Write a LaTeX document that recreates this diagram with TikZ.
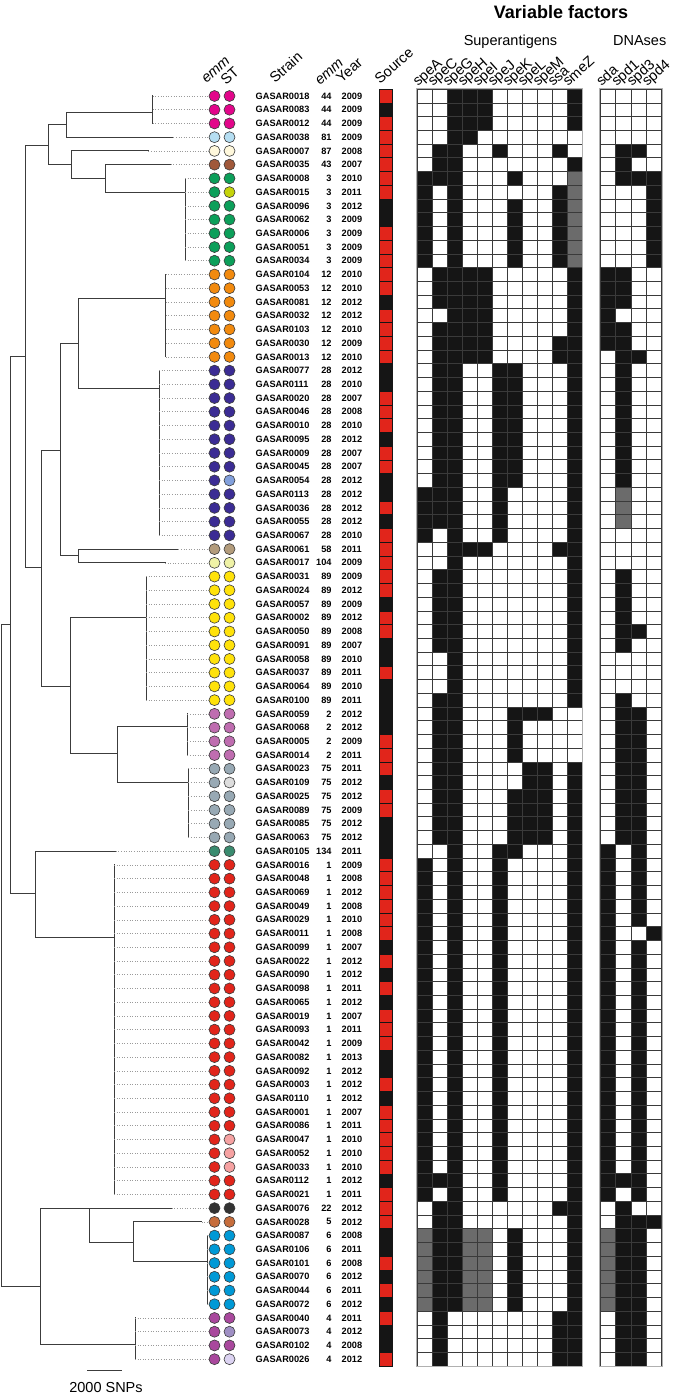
\documentclass[tikz,border=0pt]{standalone}
\usepackage{fontspec}
\setmainfont{Liberation Sans}
\definecolor{gasmagenta}{HTML}{E2068A}
\definecolor{gassky}{HTML}{B5DEF2}
\definecolor{gascream}{HTML}{FFF8DC}
\definecolor{gasbrown}{HTML}{A0583A}
\definecolor{gasgreen}{HTML}{0C9F5A}
\definecolor{gaslime}{HTML}{C5D30A}
\definecolor{gasorange}{HTML}{F28A0E}
\definecolor{gasindigo}{HTML}{3B2C94}
\definecolor{gasperiwinkle}{HTML}{82A0DC}
\definecolor{gastan}{HTML}{B39C7C}
\definecolor{gaspale}{HTML}{EFF2A6}
\definecolor{gasyellow}{HTML}{FFE20A}
\definecolor{gasmauve}{HTML}{BF6DB0}
\definecolor{gasslate}{HTML}{98A9B4}
\definecolor{gassilver}{HTML}{DDDDDD}
\definecolor{gasteal}{HTML}{3A8B6F}
\definecolor{gasred}{HTML}{E1251B}
\definecolor{gasrose}{HTML}{F6A2A2}
\definecolor{gascharcoal}{HTML}{333333}
\definecolor{gascopper}{HTML}{C66D3C}
\definecolor{gasblue}{HTML}{0099D6}
\definecolor{gasplum}{HTML}{A9489D}
\definecolor{gaslilac}{HTML}{9F8FC4}
\definecolor{gaslavender}{HTML}{DCD3F2}
\definecolor{gasbranch}{HTML}{3C3C3C}
\definecolor{gasleader}{HTML}{9A9A9A}
\definecolor{gasring}{HTML}{3A3A3A}
\definecolor{gasgrid}{HTML}{3A3A3A}
\definecolor{gasframe}{HTML}{B0B0B0}
\definecolor{gascell0}{HTML}{FFFFFF}
\definecolor{gascell1}{HTML}{151515}
\definecolor{gascell2}{HTML}{6B6B6B}
\definecolor{gassrcr}{HTML}{E1251B}
\definecolor{gassrck}{HTML}{151515}

\begin{document}
\begin{tikzpicture}[
  x=1pt, y=-1pt,
  font=\rmfamily,
  tree/.style={draw=gasbranch, line width=1pt, line cap=rect},
  leader/.style={draw=gasleader, line width=0.6pt, dotted},
  dot/.style={circle, draw=gasring, line width=0.6pt, minimum size=11pt, inner sep=0pt},
  lbl/.style={font=\fontsize{9.2}{11}\selectfont\bfseries, inner sep=0pt},
  head/.style={font=\fontsize{14.5}{17}\selectfont, inner sep=0pt, rotate=42, anchor=base west},
  title/.style={font=\fontsize{14.5}{17}\selectfont, inner sep=0pt, anchor=base},
  cell/.style={draw=gasgrid, line width=0.7pt},
  srccell/.style={draw=gassrck, line width=0.6pt},
]
\useasboundingbox (0,0) rectangle (675,1394);

% ---- row geometry ----
\def\ry#1{96+(#1-1)*13.73}
\def\clade#1#2#3#4#5{\draw[tree] (#1,{\ry{#3}}) -- (#2,{\ry{#3}}) (#2,{\ry{#4}}) -- (#2,{\ry{#5}});}
\def\tipline#1#2#3{\draw[tree] (#1,{\ry{#3}}) -- (#2,{\ry{#3}});}

% ---- headers ----
\node[font=\fontsize{18}{21}\selectfont\bfseries, inner sep=0pt, anchor=base] (vf) at (561,18.5) {Variable factors};
\node[title] (hsag) at (510.5,46) {Superantigens};
\node[title] (hdna) at (639.7,46) {DNAses};

\node[head] (hemm)  at (206.5,84) {\itshape emm};
\node[head] (hst)   at (226,86)   {ST};
\node[head] (hstr)  at (275,84)   {Strain};
\node[head] (hemmb) at (320,86)   {\itshape emm};
\node[head] (hyear) at (341.5,84) {Year};
\node[head] (hsrc)  at (380,85)   {Source};
\foreach \g [count=\c] in {speA,speC,speG,speH,speI,speJ,speK,speL,speM,ssa,smeZ}{
  \node[head] (g\c) at ({418+(\c-1)*15},87) {\g};
}
\foreach \g [count=\c] in {sda,spd1,spd3,spd4}{
  \node[head] (d\c) at ({601.4+(\c-1)*15.3},87) {\g};
}

% ---- tree ----
\draw[tree] (1.7,{\ry{39.5}}) -- (1.7,{\ry{87.7}});
\clade{1.7}{10.7}{39.5}{20}{59.07}
\clade{10.7}{25}{20}{4.6}{35.35}
\clade{25}{48.3}{4.6}{3.1}{6}
\clade{48.3}{66}{3.1}{2.2}{4}
\clade{66}{152.7}{2.2}{1}{3}
\tipline{66}{173.3}{4}
\clade{48.3}{71.7}{6}{5}{7}
\tipline{71.7}{148.3}{5}
\clade{71.7}{105.7}{7}{6}{8}
\tipline{105.7}{170.7}{6}
\clade{105.7}{185}{8}{7}{13}
\clade{25}{41.7}{35.35}{26.85}{44}
\clade{41.7}{60.7}{26.85}{19}{34.5}
\clade{60.7}{78.7}{19}{15.75}{22.3}
\clade{78.7}{165.7}{15.75}{14}{20}
\clade{78.7}{159}{22.3}{21}{33}
\clade{60.7}{78.7}{34.5}{34}{35}
\tipline{78.7}{178.3}{34}
\tipline{78.7}{165}{35}
\clade{41.7}{70.7}{44}{38.95}{48.9}
\clade{70.7}{146}{38.95}{36}{45}
\clade{70.7}{117.3}{48.9}{46.9}{51}
\clade{117.3}{187.3}{46.9}{46}{49}
\clade{117.3}{188.3}{51}{50}{55}
\clade{10.7}{35}{59.07}{56}{62.3}
\tipline{35}{115.7}{56}
\clade{35}{114}{62.3}{57}{81}
\clade{1.7}{40.7}{87.7}{82.05}{91.9}
\clade{40.7}{89}{82.05}{82}{84.5}
\tipline{89}{171.7}{82}
\clade{89}{133.3}{84.5}{83}{85.9}
\tipline{133.3}{201.7}{83}
\clade{133.3}{207}{85.9}{84}{89}
\clade{40.7}{135}{91.9}{90}{93}

% scale bar
\coordinate (sbl) at (87.3,1370);
\coordinate (sbr) at (121.7,1370);
\draw[tree] (sbl) -- (sbr);
\node[title] (sbt) at (106,1392) {2000 SNPs};

% ---- strains: tip / id / emm / year / source / dots / superantigens / DNAses ----
\foreach \i/\tip/\sid/\emm/\yr/\src/\ce/\cs/\sag/\dna in {
  1/152.7/0018/44/2009/r/magenta/magenta/{0,0,1,1,1,0,0,0,0,0,1}/{0,0,0,0},
  2/152.7/0083/44/2009/k/magenta/magenta/{0,0,1,1,1,0,0,0,0,0,1}/{0,0,0,0},
  3/152.7/0012/44/2009/r/magenta/magenta/{0,0,1,1,1,0,0,0,0,0,1}/{0,0,0,0},
  4/173.3/0038/81/2009/r/sky/sky/{0,0,1,1,0,0,0,0,0,0,0}/{0,0,0,0},
  5/148.3/0007/87/2008/r/cream/cream/{0,1,1,0,0,1,0,0,0,1,0}/{0,1,1,0},
  6/170.7/0035/43/2007/r/brown/brown/{0,1,1,0,0,0,0,0,0,0,1}/{0,1,0,0},
  7/185/0008/3/2010/r/green/green/{1,1,1,0,0,0,1,0,0,0,2}/{0,1,1,1},
  8/185/0015/3/2011/r/green/lime/{1,0,1,0,0,0,0,0,0,1,2}/{0,0,0,1},
  9/185/0096/3/2012/k/green/green/{1,0,1,0,0,0,1,0,0,1,2}/{0,0,0,1},
  10/185/0062/3/2009/k/green/green/{1,0,1,0,0,0,1,0,0,1,2}/{0,0,0,1},
  11/185/0006/3/2009/r/green/green/{1,0,1,0,0,0,1,0,0,1,2}/{0,0,0,1},
  12/185/0051/3/2009/r/green/green/{1,0,1,0,0,0,1,0,0,1,2}/{0,0,0,1},
  13/185/0034/3/2009/r/green/green/{1,0,1,0,0,0,1,0,0,1,2}/{0,0,0,1},
  14/165.7/0104/12/2010/r/orange/orange/{0,1,1,1,1,0,0,0,0,0,1}/{1,1,0,0},
  15/165.7/0053/12/2010/r/orange/orange/{0,1,1,1,1,0,0,0,0,0,1}/{1,1,0,0},
  16/165.7/0081/12/2012/k/orange/orange/{0,1,1,1,1,0,0,0,0,0,1}/{1,1,0,0},
  17/165.7/0032/12/2012/r/orange/orange/{0,0,1,1,1,0,0,0,0,0,1}/{1,0,0,0},
  18/165.7/0103/12/2010/r/orange/orange/{0,1,1,1,1,0,0,0,0,0,1}/{1,1,0,0},
  19/165.7/0030/12/2009/r/orange/orange/{0,1,1,1,1,0,0,0,0,1,1}/{1,1,0,0},
  20/165.7/0013/12/2010/r/orange/orange/{0,1,1,1,1,0,0,0,0,1,1}/{0,1,1,0},
  21/159/0077/28/2012/k/indigo/indigo/{0,1,1,0,0,1,1,0,0,0,1}/{0,1,0,0},
  22/159/0111/28/2010/k/indigo/indigo/{0,1,1,0,0,1,1,0,0,0,1}/{0,1,0,0},
  23/159/0020/28/2007/r/indigo/indigo/{0,1,1,0,0,1,1,0,0,0,1}/{0,1,0,0},
  24/159/0046/28/2008/r/indigo/indigo/{0,1,1,0,0,1,1,0,0,0,1}/{0,1,0,0},
  25/159/0010/28/2010/r/indigo/indigo/{0,1,1,0,0,1,1,0,0,0,1}/{0,1,0,0},
  26/159/0095/28/2012/k/indigo/indigo/{0,1,1,0,0,1,1,0,0,0,1}/{0,1,0,0},
  27/159/0009/28/2007/r/indigo/indigo/{0,1,1,0,0,1,1,0,0,0,1}/{0,1,0,0},
  28/159/0045/28/2007/r/indigo/indigo/{0,1,1,0,0,1,1,0,0,0,1}/{0,1,0,0},
  29/159/0054/28/2012/k/indigo/periwinkle/{0,1,1,0,0,1,1,0,0,0,1}/{0,1,0,0},
  30/159/0113/28/2012/k/indigo/indigo/{1,1,1,0,0,1,0,0,0,0,1}/{0,2,0,0},
  31/159/0036/28/2012/r/indigo/indigo/{1,1,1,0,0,1,0,0,0,0,1}/{0,2,0,0},
  32/159/0055/28/2012/k/indigo/indigo/{1,1,1,0,0,1,0,0,0,0,1}/{0,2,0,0},
  33/159/0067/28/2010/r/indigo/indigo/{1,0,1,0,0,1,0,0,0,0,1}/{0,0,0,0},
  34/178.3/0061/58/2011/r/tan/tan/{0,0,1,1,1,0,0,0,0,1,1}/{0,0,0,0},
  35/165/0017/104/2009/r/pale/pale/{0,0,1,0,0,0,0,0,0,0,1}/{0,0,0,0},
  36/146/0031/89/2009/r/yellow/yellow/{0,1,1,0,0,0,0,0,0,0,1}/{0,1,0,0},
  37/146/0024/89/2012/r/yellow/yellow/{0,1,1,0,0,0,0,0,0,0,1}/{0,1,0,0},
  38/146/0057/89/2009/k/yellow/yellow/{0,1,1,0,0,0,0,0,0,0,1}/{0,1,0,0},
  39/146/0002/89/2012/r/yellow/yellow/{0,1,1,0,0,0,0,0,0,0,1}/{0,1,0,0},
  40/146/0050/89/2008/r/yellow/yellow/{0,1,1,0,0,0,0,0,0,0,1}/{0,1,1,0},
  41/146/0091/89/2007/k/yellow/yellow/{0,1,1,0,0,0,0,0,0,0,1}/{0,1,0,0},
  42/146/0058/89/2010/k/yellow/yellow/{0,0,1,0,0,0,0,0,0,0,1}/{0,0,0,0},
  43/146/0037/89/2011/r/yellow/yellow/{0,0,1,0,0,0,0,0,0,0,1}/{0,0,0,0},
  44/146/0064/89/2010/k/yellow/yellow/{0,0,1,0,0,0,0,0,0,0,1}/{0,0,0,0},
  45/146/0100/89/2011/k/yellow/yellow/{0,1,1,0,0,0,0,0,0,0,1}/{0,1,0,0},
  46/187.3/0059/2/2012/k/mauve/mauve/{0,1,1,0,0,0,1,1,1,0,0}/{0,1,1,0},
  47/187.3/0068/2/2012/k/mauve/mauve/{0,1,1,0,0,0,1,0,0,0,0}/{0,1,1,0},
  48/187.3/0005/2/2009/r/mauve/mauve/{0,1,1,0,0,0,1,0,0,0,0}/{0,1,1,0},
  49/187.3/0014/2/2011/r/mauve/mauve/{0,1,1,0,0,0,1,0,0,0,0}/{0,1,1,0},
  50/188.3/0023/75/2011/r/slate/slate/{0,1,1,0,0,0,0,1,1,0,1}/{0,1,1,0},
  51/188.3/0109/75/2012/k/slate/silver/{0,1,1,0,0,0,0,1,1,0,1}/{0,1,1,0},
  52/188.3/0025/75/2012/r/slate/slate/{0,1,1,0,0,0,1,1,1,0,1}/{0,1,1,0},
  53/188.3/0089/75/2009/r/slate/slate/{0,1,1,0,0,0,1,1,1,0,1}/{0,1,1,0},
  54/188.3/0085/75/2012/k/slate/slate/{0,1,1,0,0,0,1,1,1,0,1}/{0,1,1,0},
  55/188.3/0063/75/2012/k/slate/slate/{0,1,1,0,0,0,1,1,1,0,1}/{0,1,1,0},
  56/115.7/0105/134/2011/k/teal/teal/{0,0,1,0,0,1,1,0,0,0,1}/{1,0,1,0},
  57/114/0016/1/2009/r/red/red/{1,0,1,0,0,1,0,0,0,0,1}/{1,0,1,0},
  58/114/0048/1/2008/r/red/red/{1,0,1,0,0,1,0,0,0,0,1}/{1,0,1,0},
  59/114/0069/1/2012/r/red/red/{1,0,1,0,0,1,0,0,0,0,1}/{1,0,1,0},
  60/114/0049/1/2008/r/red/red/{1,0,1,0,0,1,0,0,0,0,1}/{1,0,1,0},
  61/114/0029/1/2010/r/red/red/{1,0,1,0,0,1,0,0,0,0,1}/{1,0,1,0},
  62/114/0011/1/2008/r/red/red/{1,0,1,0,0,1,0,0,0,0,1}/{1,0,0,1},
  63/114/0099/1/2007/k/red/red/{1,0,1,0,0,1,0,0,0,0,1}/{1,0,1,0},
  64/114/0022/1/2012/r/red/red/{1,0,1,0,0,1,0,0,0,0,1}/{1,0,1,0},
  65/114/0090/1/2012/k/red/red/{1,0,1,0,0,1,0,0,0,0,1}/{1,0,1,0},
  66/114/0098/1/2011/r/red/red/{1,0,1,0,0,1,0,0,0,0,1}/{1,0,1,0},
  67/114/0065/1/2012/k/red/red/{1,0,1,0,0,1,0,0,0,0,1}/{1,0,1,0},
  68/114/0019/1/2007/r/red/red/{1,0,1,0,0,1,0,0,0,0,1}/{1,0,1,0},
  69/114/0093/1/2011/r/red/red/{1,0,1,0,0,1,0,0,0,0,1}/{1,0,1,0},
  70/114/0042/1/2009/r/red/red/{1,0,1,0,0,1,0,0,0,0,1}/{1,0,1,0},
  71/114/0082/1/2013/k/red/red/{1,0,1,0,0,1,0,0,0,0,1}/{1,0,1,0},
  72/114/0092/1/2012/k/red/red/{1,0,1,0,0,1,0,0,0,0,1}/{1,0,1,0},
  73/114/0003/1/2012/r/red/red/{1,0,1,0,0,1,0,0,0,0,1}/{1,0,1,0},
  74/114/0110/1/2012/k/red/red/{1,0,1,0,0,1,0,0,0,0,1}/{1,0,1,0},
  75/114/0001/1/2007/r/red/red/{1,0,1,0,0,1,0,0,0,0,1}/{1,0,1,0},
  76/114/0086/1/2011/r/red/red/{1,0,1,0,0,1,0,0,0,0,1}/{1,0,1,0},
  77/114/0047/1/2010/r/red/rose/{1,0,1,0,0,1,0,0,0,0,1}/{1,0,1,0},
  78/114/0052/1/2010/r/red/rose/{1,0,1,0,0,1,0,0,0,0,1}/{1,0,1,0},
  79/114/0033/1/2010/r/red/rose/{1,0,1,0,0,1,0,0,0,0,1}/{1,0,1,0},
  80/114/0112/1/2012/k/red/red/{1,1,1,0,0,1,0,0,0,0,1}/{1,1,1,0},
  81/114/0021/1/2011/r/red/red/{1,0,1,0,0,1,0,0,0,0,1}/{1,0,1,0},
  82/171.7/0076/22/2012/r/charcoal/charcoal/{0,1,1,0,0,0,0,0,0,1,1}/{0,1,0,0},
  83/201.7/0028/5/2012/r/copper/copper/{0,1,1,0,0,0,0,0,0,0,1}/{0,1,1,1},
  84/207/0087/6/2008/k/blue/blue/{2,1,1,2,2,0,1,0,0,0,1}/{2,1,1,0},
  85/207/0106/6/2011/k/blue/blue/{2,1,1,2,2,0,1,0,0,0,1}/{2,1,1,0},
  86/207/0101/6/2008/r/blue/blue/{2,1,1,2,2,0,1,0,0,0,1}/{2,1,1,0},
  87/207/0070/6/2012/k/blue/blue/{2,1,1,2,2,0,1,0,0,0,1}/{2,1,1,0},
  88/207/0044/6/2011/r/blue/blue/{2,1,1,2,2,0,1,0,0,0,1}/{2,1,1,0},
  89/207/0072/6/2012/k/blue/blue/{2,1,1,2,2,0,1,0,0,0,1}/{2,1,1,0},
  90/135/0040/4/2011/r/plum/plum/{0,1,0,0,0,0,0,0,0,1,1}/{0,1,1,0},
  91/135/0073/4/2012/k/plum/lilac/{0,1,0,0,0,0,0,0,0,1,1}/{0,1,1,0},
  92/135/0102/4/2008/k/plum/plum/{0,1,0,0,0,0,0,0,0,1,1}/{0,1,1,0},
  93/135/0026/4/2012/r/plum/lavender/{0,1,0,0,0,0,0,0,0,1,1}/{0,1,1,0}%
}{
  \pgfmathsetmacro\yy{\ry{\i}}
  \pgfmathsetmacro\yt{\yy-6.865}
  \pgfmathsetmacro\yb{\yy+6.865}
  % dots and leader
  \node[dot, fill=gas\ce] (e\i) at (214.5,\yy) {};
  \node[dot, fill=gas\cs] (s\i) at (229.5,\yy) {};
  \draw[leader] (\tip,\yy) -- (e\i.west);
  % labels
  \node[lbl, anchor=west] (t\i) at (255.5,\yy) {GASAR\sid};
  \node[lbl, anchor=east] (m\i) at (331.7,\yy) {\emm};
  \node[lbl, anchor=west] (y\i) at (341.5,\yy) {\yr};
  % source
  \filldraw[srccell, fill=gassrc\src] (379.3,\yt) rectangle (392.7,\yb);
  % superantigens
  \foreach \v [count=\c] in \sag {
    \pgfmathsetmacro\xl{417+(\c-1)*15}
    \filldraw[cell, fill=gascell\v] (\xl,\yt) rectangle ++(15,13.73);
  }
  % DNAses
  \foreach \v [count=\c] in \dna {
    \pgfmathsetmacro\xl{600.4+(\c-1)*15.3}
    \filldraw[cell, fill=gascell\v] (\xl,\yt) rectangle ++(15.3,13.73);
  }
}

% grid frames
\draw[gasframe, line width=1pt] (416.4,88.5) rectangle (582.6,1366.6);
\draw[gasframe, line width=1pt] (599.8,88.5) rectangle (662.2,1366.6);

\end{tikzpicture}
\end{document}
